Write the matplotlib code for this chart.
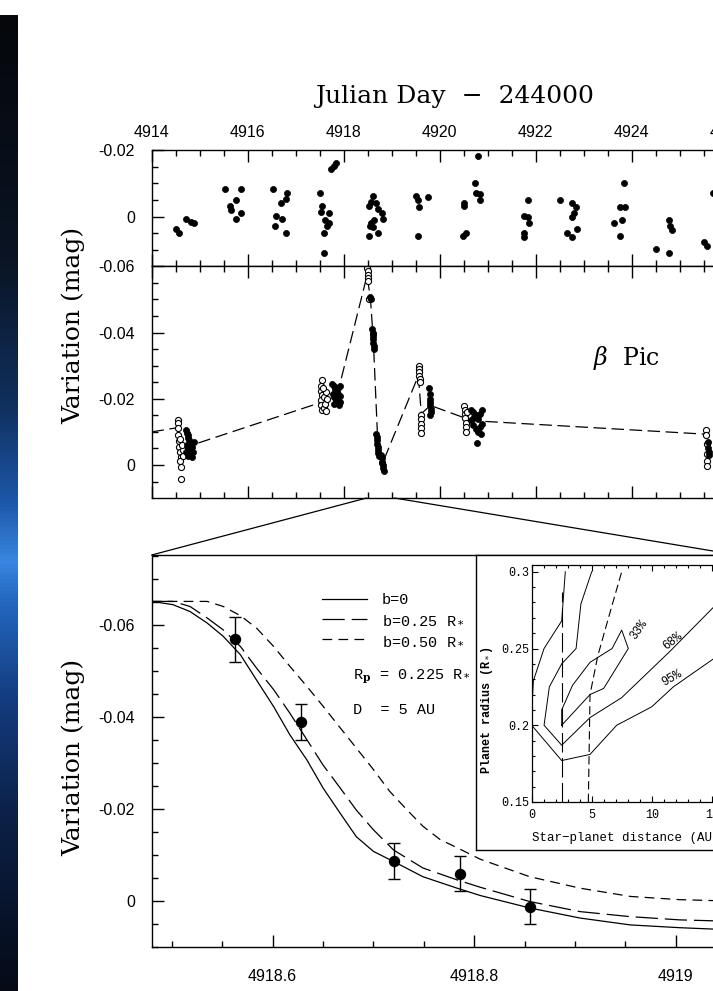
import numpy as np
import matplotlib
matplotlib.use("Agg")
import matplotlib.pyplot as plt
from matplotlib.patches import ConnectionPatch
from matplotlib.colors import LinearSegmentedColormap
from matplotlib.ticker import MultipleLocator, FixedLocator

plt.rcParams['lines.scale_dashes'] = False
plt.rcParams['mathtext.fontset'] = 'dejavuserif'
plt.rcParams['axes.unicode_minus'] = False

# ---------------- data ----------------
# top panel: reference star differences (filled)
top_day = [4914.52, 4914.58, 4914.71, 4914.83, 4914.89,
           4915.54, 4915.86, 4915.76, 4915.63, 4915.65, 4915.76, 4915.86,
           4916.53, 4916.83, 4916.80, 4916.70, 4916.59, 4916.72, 4916.57, 4916.80,
           4917.52, 4917.55, 4917.54, 4917.69, 4917.61, 4917.69, 4917.65, 4917.59, 4917.60,
           4917.73, 4917.80, 4917.84,
           4918.62, 4918.57, 4918.53, 4918.68, 4918.72, 4918.80, 4918.83, 4918.64, 4918.57,
           4918.55, 4918.62, 4918.53, 4918.72,
           4919.52, 4919.56, 4919.58, 4919.75, 4919.55,
           4920.51, 4920.51, 4920.55, 4920.49, 4920.74, 4920.77, 4920.84, 4920.84, 4920.80,
           4921.85, 4921.77, 4921.85, 4921.87, 4921.77, 4921.77,
           4922.52, 4922.77, 4922.84, 4922.80, 4922.77, 4922.65, 4922.77, 4922.86,
           4923.85, 4923.76, 4923.87, 4923.80, 4923.64, 4923.76,
           4924.51, 4924.79, 4924.81, 4924.84, 4924.79,
           4925.50, 4925.57, 4925.70]
top_mag = [0.0038, 0.0050, 0.0008, 0.0015, 0.0020,
           -0.0082, -0.0082, -0.0050, -0.0032, -0.0020, 0.0008, -0.0012,
           -0.0082, -0.0072, -0.0052, -0.0042, -0.0002, 0.0008, 0.0028, 0.0048,
           -0.0072, -0.0032, -0.0015, -0.0012, 0.0010, 0.0018, 0.0028, 0.0048, 0.0109,
           -0.0143, -0.0153, -0.0161,
           -0.0062, -0.0045, -0.0032, -0.0042, -0.0022, -0.0010, 0.0008, 0.0010, 0.0020,
           0.0028, 0.0030, 0.0058, 0.0048,
           -0.0062, -0.0050, -0.0030, -0.0060, 0.0058,
           -0.0042, -0.0032, 0.0050, 0.0058, -0.0102, -0.0072, -0.0068, -0.0050, -0.0183,
           -0.0050, -0.0002, 0.0000, 0.0018, 0.0050, 0.0060,
           -0.0050, -0.0042, -0.0030, -0.0010, 0.0000, 0.0050, 0.0060, 0.0038,
           -0.0102, -0.0030, -0.0030, 0.0010, 0.0018, 0.0058,
           0.0098, 0.0010, 0.0028, 0.0040, 0.0109,
           0.0078, 0.0088, -0.0072]

# middle panel: beta Pic (open and filled symbols)
mid_open_day = [4914.55, 4914.55, 4914.56, 4914.56, 4914.57, 4914.58, 4914.60, 4914.61, 4914.60,
                4914.62, 4914.62, 4914.65, 4914.66, 4914.64, 4914.59,
                4917.55, 4917.54, 4917.53, 4917.55, 4917.54, 4917.53, 4917.55, 4917.60, 4917.63,
                4917.62, 4917.60, 4917.64, 4917.58, 4917.66,
                4918.49, 4918.50, 4918.50, 4918.51, 4918.52, 4918.53,
                4919.57, 4919.57, 4919.58, 4919.58, 4919.59, 4919.59,
                4919.61, 4919.61, 4919.62, 4919.62, 4919.62,
                4920.52, 4920.53, 4920.53, 4920.54, 4920.55, 4920.55, 4920.56, 4920.57,
                4925.56, 4925.56, 4925.57, 4925.57, 4925.58, 4925.58]
mid_open_mag = [-0.0136, -0.0126, -0.0112, -0.0090, -0.0072, -0.0055, -0.0040, -0.0025, -0.0012,
                0.0005, 0.0042, -0.0045, -0.0028, -0.0060, -0.0080,
                -0.0258, -0.0240, -0.0225, -0.0210, -0.0195, -0.0180, -0.0165, -0.0172, -0.0162,
                -0.0185, -0.0205, -0.0220, -0.0232, -0.0198,
                -0.0595, -0.0585, -0.0575, -0.0565, -0.0555, -0.0502,
                -0.0300, -0.0290, -0.0280, -0.0270, -0.0260, -0.0250,
                -0.0150, -0.0138, -0.0125, -0.0112, -0.0098,
                -0.0178, -0.0166, -0.0154, -0.0142, -0.0128, -0.0114, -0.0100, -0.0160,
                -0.0106, -0.0092, -0.0064, -0.0034, -0.0012, 0.0002]
mid_fill_day = [4914.71, 4914.73, 4914.75, 4914.77, 4914.79, 4914.81, 4914.83, 4914.85, 4914.73,
                4914.76, 4914.79, 4914.82, 4914.72, 4914.86, 4914.88, 4914.75, 4914.84,
                4917.77, 4917.80, 4917.83, 4917.86, 4917.89, 4917.92, 4917.78, 4917.81, 4917.84,
                4917.87, 4917.90, 4917.93, 4917.80, 4917.88, 4917.92,
                4918.56, 4918.57,
                4918.60, 4918.61, 4918.61, 4918.62, 4918.62, 4918.63, 4918.63, 4918.62,
                4918.68, 4918.69, 4918.70, 4918.70, 4918.71, 4918.72, 4918.72, 4918.73, 4918.78,
                4918.80, 4918.81, 4918.82, 4918.83, 4918.84, 4918.80,
                4919.79, 4919.80, 4919.80, 4919.81, 4919.81, 4919.82, 4919.82, 4919.81,
                4920.65, 4920.70, 4920.75, 4920.80, 4920.85, 4920.88, 4920.70, 4920.75, 4920.80,
                4920.85, 4920.88, 4920.78, 4920.66, 4920.72, 4920.86,
                4925.60, 4925.60, 4925.61, 4925.62]
mid_fill_mag = [-0.0105, -0.0098, -0.0090, -0.0082, -0.0075, -0.0068, -0.0062, -0.0055, -0.0060,
                -0.0050, -0.0042, -0.0035, -0.0038, -0.0040, -0.0070, -0.0028, -0.0025,
                -0.0245, -0.0238, -0.0230, -0.0222, -0.0215, -0.0208, -0.0215, -0.0205, -0.0195,
                -0.0188, -0.0182, -0.0190, -0.0185, -0.0232, -0.0240,
                -0.0508, -0.0500,
                -0.0410, -0.0400, -0.0390, -0.0380, -0.0370, -0.0360, -0.0350, -0.0395,
                -0.0093, -0.0085, -0.0075, -0.0065, -0.0055, -0.0045, -0.0035, -0.0028, -0.0030,
                -0.0020, -0.0010, 0.0000, 0.0010, 0.0017, -0.0005,
                -0.0232, -0.0215, -0.0200, -0.0190, -0.0180, -0.0170, -0.0160, -0.0152,
                -0.0165, -0.0160, -0.0150, -0.0140, -0.0155, -0.0165, -0.0120, -0.0110, -0.0100,
                -0.0115, -0.0125, -0.0068, -0.0135, -0.0145, -0.0095,
                -0.0070, -0.0050, -0.0030, -0.0040]
mid_line_day = [4914.00, 4914.55, 4914.90, 4917.55, 4917.90, 4918.49, 4918.56, 4918.62,
                4918.72, 4918.86, 4919.56, 4919.62, 4919.81, 4920.68, 4925.57]
mid_line_mag = [-0.0100, -0.0113, -0.0063, -0.0190, -0.0230, -0.0572, -0.0505, -0.0380,
                -0.0050, -0.0022, -0.0270, -0.0155, -0.0180, -0.0134, -0.0093]

# bottom panel: zoom on the event, models and binned points
model_day = [4918.480, 4918.501, 4918.518, 4918.535, 4918.551, 4918.568, 4918.584, 4918.601,
             4918.617, 4918.634, 4918.650, 4918.667, 4918.683, 4918.700, 4918.720, 4918.749,
             4918.783, 4918.806, 4918.855, 4918.905, 4918.955, 4919.004, 4919.037, 4919.060]
b0_mag = [-0.0651, -0.0644, -0.0629, -0.0604, -0.0575, -0.0535, -0.0480, -0.0422,
          -0.0361, -0.0306, -0.0245, -0.0190, -0.0139, -0.0107, -0.0085, -0.0052,
          -0.0027, -0.0011, 0.0016, 0.0038, 0.0053, 0.0059, 0.0062, 0.0063]
b25_mag = [-0.0651, -0.0651, -0.0640, -0.0615, -0.0589, -0.0553, -0.0506, -0.0459,
           -0.0408, -0.0350, -0.0295, -0.0245, -0.0197, -0.0154, -0.0110, -0.0071,
           -0.0045, -0.0029, 0.0002, 0.0024, 0.0035, 0.0042, 0.0044, 0.0045]
b50_day = [4918.480, 4918.535, 4918.551, 4918.568, 4918.584, 4918.601, 4918.617, 4918.634,
           4918.650, 4918.667, 4918.683, 4918.700, 4918.716, 4918.733, 4918.749, 4918.766,
           4918.783, 4918.806, 4918.855, 4918.905, 4918.955, 4919.004, 4919.037, 4919.060]
b50_mag = [-0.0651, -0.0651, -0.0640, -0.0620, -0.0593, -0.0553, -0.0510, -0.0466,
           -0.0423, -0.0376, -0.0332, -0.0285, -0.0238, -0.0198, -0.0162, -0.0133,
           -0.0115, -0.0090, -0.0052, -0.0027, -0.0009, -0.0002, 0.0000, 0.0001]
obs_day = [4918.563, 4918.628, 4918.720, 4918.786, 4918.855]
obs_mag = [-0.0569, -0.0388, -0.0087, -0.0058, 0.0013]
obs_err = [0.0049, 0.0039, 0.0039, 0.0038, 0.0038]
model_labels = ['b=0', r'b=0.25 R$_*$', r'b=0.50 R$_*$']

# inset: confidence contours (distance AU, planet radius R*)
c95_x = [2.80, 2.50, 1.03, 0.14, 0.00, 0.00, 2.50, 4.86, 7.08, 10.0, 11.8, 15.1, 17.0]
c95_y = [0.300, 0.268, 0.250, 0.229, 0.209, 0.200, 0.177, 0.181, 0.200, 0.212, 0.225, 0.243, 0.252]
c68_x = [5.00, 4.10, 3.70, 2.50, 1.47, 1.03, 2.50, 4.86, 7.50, 11.5, 15.1, 17.0]
c68_y = [0.300, 0.279, 0.250, 0.240, 0.225, 0.200, 0.187, 0.205, 0.218, 0.248, 0.2765, 0.290]
c33_x = [2.50, 2.50, 3.40, 4.86, 6.70, 7.50, 8.05, 6.00, 4.86, 2.50]
c33_y = [0.200, 0.210, 0.226, 0.241, 0.250, 0.262, 0.250, 0.224, 0.220, 0.200]
vline_x = [2.5, 2.5]
vline_y = [0.150, 0.287]
dline_x = [4.72, 4.86, 5.50, 6.40, 7.50]
dline_y = [0.150, 0.220, 0.245, 0.270, 0.300]
pct_labels = ['33%', '68%', '95%']
pct_x = [8.9, 11.7, 11.7]
pct_y = [0.2624, 0.2545, 0.2310]
pct_rot = [55, 38, 30]

top_xticks = [4914, 4916, 4918, 4920, 4922, 4924, 4926]
top_xticklabels = ['4914', '4916', '4918', '4920', '4922', '4924', '4926']
top_yticks = [-0.02, 0.0]
top_yticklabels = ['-0.02', '0']
mid_yticks = [-0.06, -0.04, -0.02, 0.0]
mid_yticklabels = ['-0.06', '-0.04', '-0.02', '0']
bot_xticks = [4918.6, 4918.8, 4919.0]
bot_xticklabels = ['4918.6', '4918.8', '4919']
bot_yticks = [-0.06, -0.04, -0.02, 0.0]
bot_yticklabels = ['-0.06', '-0.04', '-0.02', '0']
ins_xticks = [0, 5, 10, 15]
ins_xticklabels = ['0', '5', '10', '15']
ins_yticks = [0.15, 0.2, 0.25, 0.3]
ins_yticklabels = ['0.15', '0.2', '0.25', '0.3']

# ---------------- figure ----------------
W, H = 713, 991
fig = plt.figure(figsize=(W / 100, H / 100), dpi=100)
fig.patch.set_facecolor('white')


def box_px(x0, y0, x1, y1):
    return [x0 / W, 1 - y1 / H, (x1 - x0) / W, (y1 - y0) / H]


SANS = 'Liberation Sans'
MONO = 'Liberation Mono'
SERIF = 'DejaVu Serif'

# dark strip at the left edge
strip = fig.add_axes(box_px(0, 15, 18, 991))
cmap = LinearSegmentedColormap.from_list('strip', [
    (0.00, '#05070b'), (0.25, '#0a1424'), (0.40, '#10305e'), (0.50, '#1d58aa'),
    (0.56, '#3a86e0'), (0.60, '#2468c0'), (0.70, '#143c80'), (0.82, '#0b2148'),
    (1.00, '#050a16')])
strip.imshow(np.linspace(0, 1, 256).reshape(-1, 1), aspect='auto', cmap=cmap)
strip.axis('off')


def style_axes(ax, lw=1.0):
    for s in ax.spines.values():
        s.set_linewidth(lw)
        s.set_color('black')


# top panel
ax1 = fig.add_axes(box_px(151.5, 150, 751.5, 266))
ax1.plot(top_day, top_mag, 'o', ms=4.4, mfc='black', mec='black', mew=0.5)
ax1.set_xlim(4914, 4926.5)
ax1.set_ylim(0.0149, -0.0201)
ax1.xaxis.set_major_locator(FixedLocator(top_xticks))
ax1.set_xticklabels(top_xticklabels)
ax1.xaxis.set_minor_locator(MultipleLocator(0.5))
ax1.yaxis.set_major_locator(FixedLocator(top_yticks))
ax1.set_yticklabels(top_yticklabels)
ax1.yaxis.set_minor_locator(MultipleLocator(0.005))
ax1.tick_params(which='both', direction='in', top=True, bottom=True, left=True, right=False,
                labeltop=True, labelbottom=False, width=1.0)
ax1.tick_params(which='major', length=8.6)
ax1.tick_params(which='minor', length=4.0)
ax1.tick_params(axis='x', pad=7)
ax1.tick_params(axis='y', pad=12)
style_axes(ax1)

# middle panel
ax2 = fig.add_axes(box_px(151.5, 266, 751.5, 498))
ax2.plot(mid_line_day, mid_line_mag, color='black', lw=0.9, ls=(0, (9, 4)), zorder=1)
ax2.plot(mid_open_day, mid_open_mag, 'o', ms=4.4, mfc='white', mec='black', mew=0.8, zorder=2)
ax2.plot(mid_fill_day, mid_fill_mag, 'o', ms=4.4, mfc='black', mec='black', mew=0.5, zorder=3)
ax2.set_xlim(4914, 4926.5)
ax2.set_ylim(0.00995, -0.0601)
ax2.xaxis.set_major_locator(FixedLocator(top_xticks))
ax2.xaxis.set_minor_locator(MultipleLocator(0.5))
ax2.yaxis.set_major_locator(FixedLocator(mid_yticks))
ax2.set_yticklabels(mid_yticklabels)
ax2.yaxis.set_minor_locator(MultipleLocator(0.005))
ax2.tick_params(which='both', direction='in', top=True, bottom=True, left=True, right=False,
                labelbottom=False, width=1.0)
ax2.tick_params(which='major', length=8.6)
ax2.tick_params(which='minor', length=4.0)
ax2.tick_params(axis='y', pad=12)
style_axes(ax2)
fig.text(626 / W, 1 - 358 / H, r'$\beta$  Pic', family=SERIF, fontsize=17, ha='center', va='center')

# bottom panel
ax3 = fig.add_axes(box_px(151.7, 555, 737.0, 947))
l0, = ax3.plot(model_day, b0_mag, color='black', lw=0.9, ls='-')
l1, = ax3.plot(model_day, b25_mag, color='black', lw=0.9, ls=(0, (16, 5)))
l2, = ax3.plot(b50_day, b50_mag, color='black', lw=0.9, ls=(0, (7, 4.5)))
ax3.errorbar(obs_day, obs_mag, yerr=obs_err, fmt='o', ms=7.2, mfc='black', mec='black',
             ecolor='black', elinewidth=1.0, capsize=4, capthick=1.0, zorder=4)
ax3.set_xlim(4918.48, 4919.0607)
ax3.set_ylim(0.0101, -0.0752)
ax3.xaxis.set_major_locator(FixedLocator(bot_xticks))
ax3.set_xticklabels(bot_xticklabels)
ax3.xaxis.set_minor_locator(MultipleLocator(0.05))
ax3.yaxis.set_major_locator(FixedLocator(bot_yticks))
ax3.set_yticklabels(bot_yticklabels)
ax3.yaxis.set_minor_locator(MultipleLocator(0.005))
ax3.tick_params(which='both', direction='in', top=False, bottom=True, left=True, right=False,
                width=1.0)
ax3.tick_params(which='major', length=8.6)
ax3.tick_params(which='minor', length=4.0)
ax3.tick_params(axis='x', pad=16)
ax3.tick_params(axis='y', pad=12)
style_axes(ax3)
leg = ax3.legend([l0, l1, l2], model_labels, loc='upper left',
                 bbox_to_anchor=(321.7 / W, 1 - 593 / H), bbox_transform=fig.transFigure,
                 frameon=False, borderpad=0, borderaxespad=0, handlelength=2.95,
                 handletextpad=1.0, labelspacing=0.42, prop={'family': MONO, 'size': 11})
fig.text(353 / W, 1 - 676.7 / H, r'R$_\mathbf{p}$ = 0.225 R$_*$', family=MONO, fontsize=11,
         ha='left', va='center')
fig.text(353 / W, 1 - 710 / H, 'D  = 5 AU', family=MONO, fontsize=11, ha='left', va='center')

# tick-label fonts
for ax in (ax1, ax2, ax3):
    for lab in ax.get_xticklabels() + ax.get_yticklabels():
        lab.set_family(SANS)
        lab.set_fontsize(11.5)

# inset frame and axes
box = fig.add_axes(box_px(476, 555, 790, 850))
box.set_xticks([])
box.set_yticks([])
box.set_facecolor('white')
style_axes(box, 1.0)

ax4 = fig.add_axes(box_px(531.7, 565, 729.7, 802))
ax4.plot(c95_x, c95_y, color='black', lw=0.7)
ax4.plot(c68_x, c68_y, color='black', lw=0.7)
ax4.plot(c33_x, c33_y, color='black', lw=0.7)
ax4.plot(vline_x, vline_y, color='black', lw=0.8, ls=(0, (14, 4)))
ax4.plot(dline_x, dline_y, color='black', lw=0.8, ls=(0, (6, 3)))
for t, x, y, r in zip(pct_labels, pct_x, pct_y, pct_rot):
    ax4.text(x, y, t, rotation=r, family=MONO, fontsize=8.5, ha='center', va='center')
ax4.set_xlim(0, 16.5)
ax4.set_ylim(0.15, 0.3044)
ax4.xaxis.set_major_locator(FixedLocator(ins_xticks))
ax4.set_xticklabels(ins_xticklabels)
ax4.xaxis.set_minor_locator(MultipleLocator(1))
ax4.yaxis.set_major_locator(FixedLocator(ins_yticks))
ax4.set_yticklabels(ins_yticklabels)
ax4.yaxis.set_minor_locator(MultipleLocator(0.01))
ax4.tick_params(which='both', direction='in', top=True, bottom=True, left=True, right=True,
                width=0.8)
ax4.tick_params(which='major', length=4.5)
ax4.tick_params(which='minor', length=2.5)
ax4.tick_params(axis='x', pad=5)
ax4.tick_params(axis='y', pad=1.5)
for lab in ax4.get_xticklabels() + ax4.get_yticklabels():
    lab.set_family(MONO)
    lab.set_fontsize(8.5)
style_axes(ax4, 0.9)
fig.text(531.7 / W, 1 - 838 / H, 'Star\u2212planet distance (AU)', family=MONO, fontsize=9,
         ha='left', va='center')
fig.text(487 / W, 1 - 710 / H, r'Planet radius (R$_*$)', family=MONO, fontsize=8.5,
         weight='bold', rotation=90, ha='center', va='center')

# zoom connector lines
for xa, xb in ((4918.48, 0.0), (4919.0607, 1.0)):
    con = ConnectionPatch(xyA=(xa, 0.00995), coordsA=ax2.transData,
                          xyB=(xb, 1.0), coordsB=ax3.transAxes, color='black', lw=0.9)
    fig.add_artist(con)

# titles / axis labels
fig.text(455 / W, 1 - 97 / H, 'Julian Day  \u2212  244000', family=SERIF, fontsize=18,
         ha='center', va='center')
fig.text(73 / W, 1 - 325 / H, 'Variation (mag)', family=SERIF, fontsize=18, rotation=90,
         ha='center', va='center')
fig.text(73 / W, 1 - 757 / H, 'Variation (mag)', family=SERIF, fontsize=18, rotation=90,
         ha='center', va='center')

fig.savefig('out.png', dpi=100)
